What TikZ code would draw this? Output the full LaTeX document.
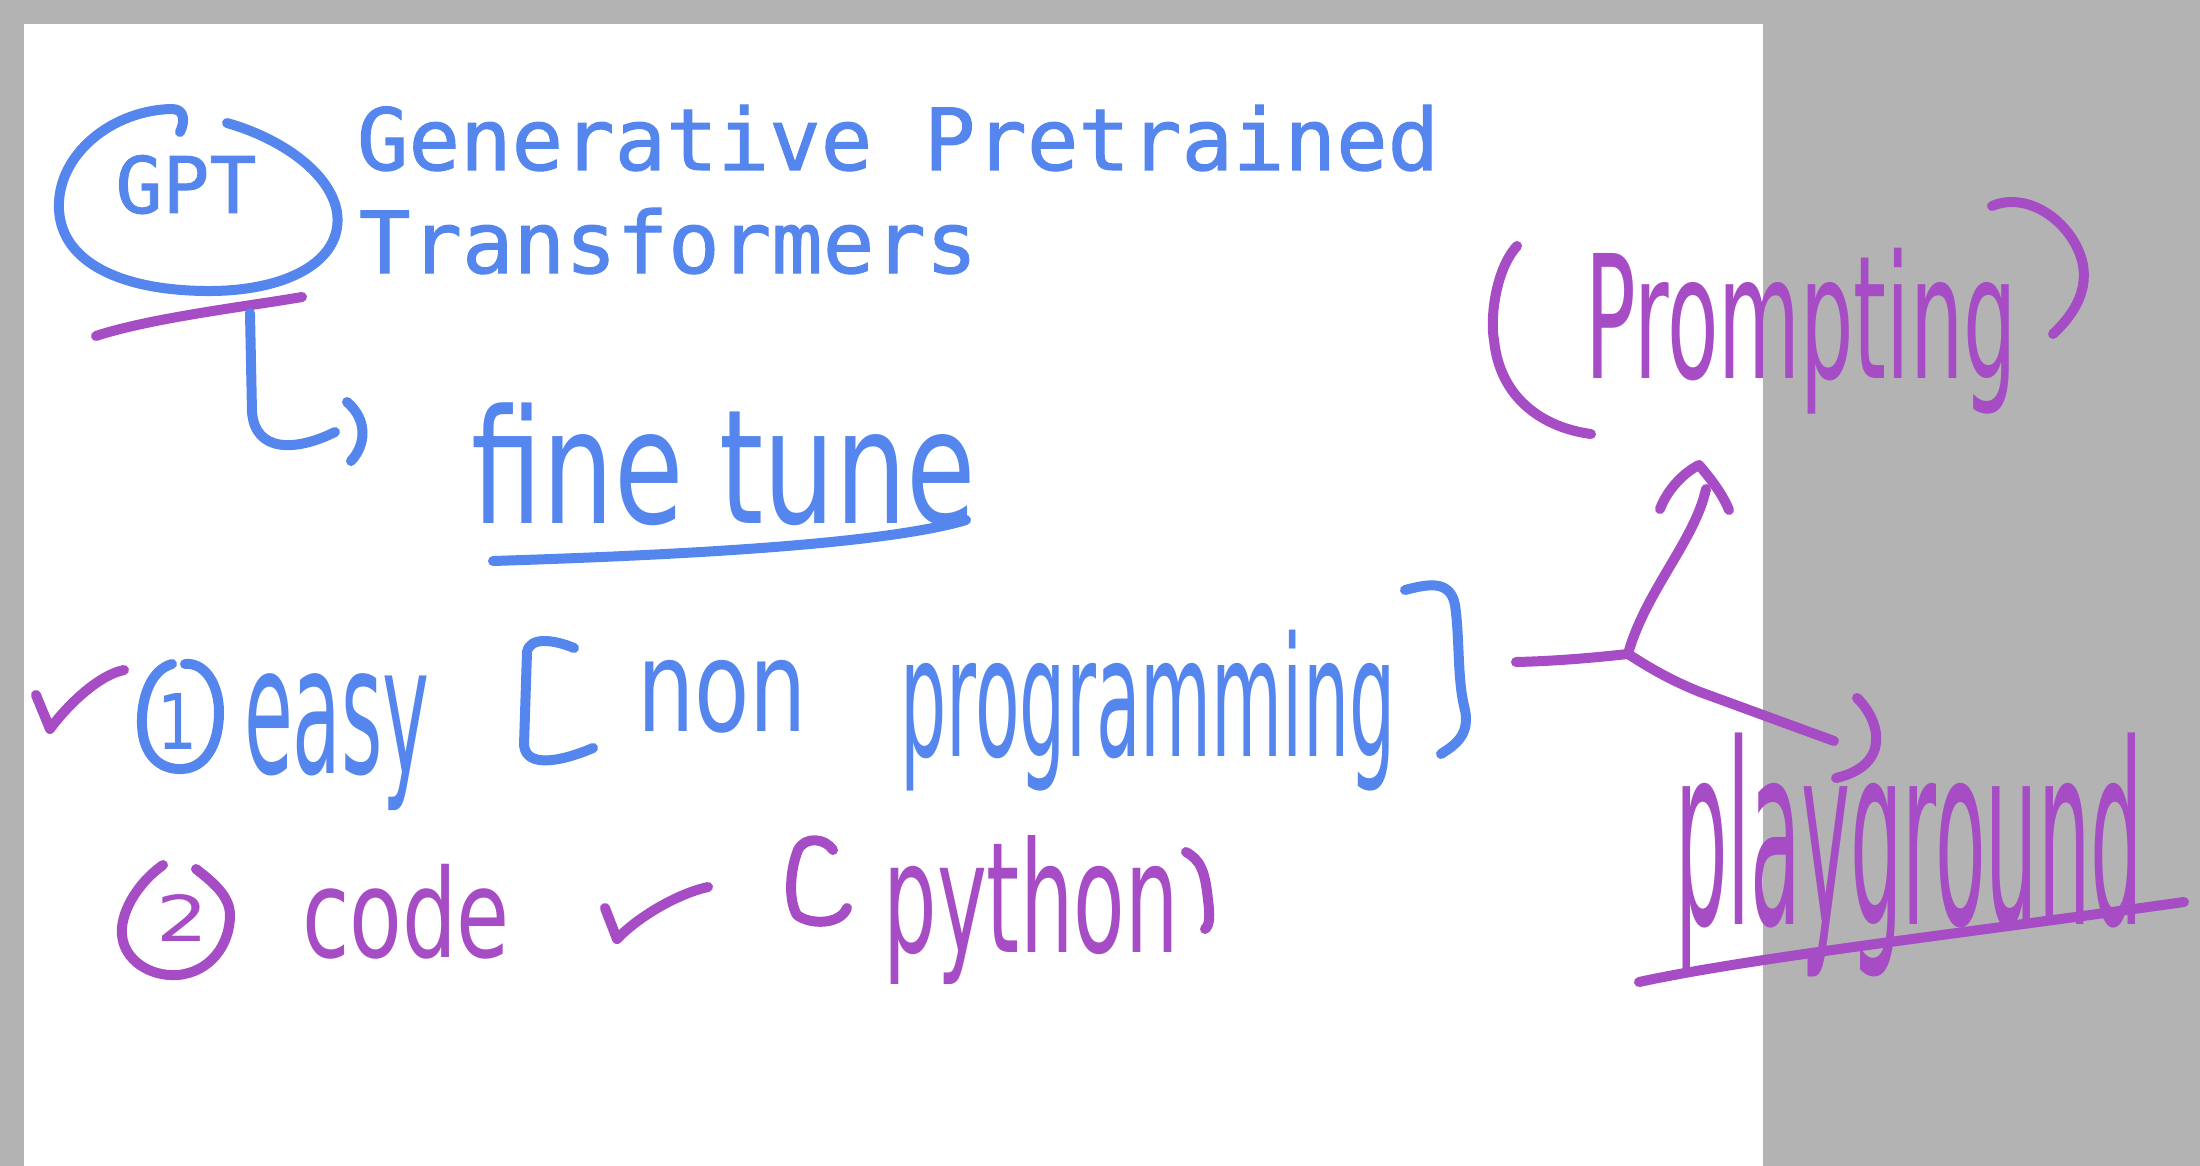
\documentclass[tikz,border=0pt]{standalone}
\usepackage{fontspec}
\usepackage{graphicx}
\newfontfamily\monofont[FakeBold=1.2]{DejaVu Sans Mono}
\newfontfamily\hwfont{DejaVu Sans}
\definecolor{pblue}{RGB}{85,134,237}
\definecolor{ppurple}{RGB}{166,76,196}
\definecolor{bggray}{RGB}{179,179,179}
\newcommand{\hwbox}[3]{\resizebox*{#1pt}{#2pt}{\fontsize{100}{100}\hwfont #3}}
\tikzset{
  bstroke/.style={draw=pblue, line width=10pt, line cap=round, line join=round},
  pstroke/.style={draw=ppurple, line width=10pt, line cap=round, line join=round},
  hwb/.style={text=pblue, inner sep=0pt, outer sep=0pt, anchor=center},
  hwp/.style={text=ppurple, inner sep=0pt, outer sep=0pt, anchor=center},
  typed/.style={text=pblue, inner sep=0pt, outer sep=0pt, font=\fontsize{85.6}{100}\monofont}
}
\begin{document}
\begin{tikzpicture}[x=1pt,y=-1pt]
\fill[bggray] (0,0) rectangle (2200,1166);
\fill[white] (24,24) rectangle (1763,1166);
\useasboundingbox (0,0) rectangle (2200,1166);

% typed header
\node[typed, anchor=base west] (title1) at (357,170) {Generative Pretrained};
\node[typed, anchor=base west] (title2) at (359,273) {Transformers};
\node[text=pblue, inner sep=0pt, anchor=base, font=\fontsize{78}{90}\monofont] (gpt) at (186,213) {GPT};

% ellipse around GPT
\draw[bstroke] (227,123) .. controls (280,138) and (330,172) .. (337,212)
  .. controls (344,262) and (285,292) .. (205,291)
  .. controls (120,290) and (62,262) .. (59,210)
  .. controls (56,155) and (112,110) .. (172,109)
  .. controls (185,109) and (185,122) .. (180,132);
% purple underline under GPT
\draw[pstroke] (96,336) .. controls (150,318) and (250,306) .. (302,297);

% connector GPT -> fine tune
\coordinate (gu) at (250,313);
\coordinate (gend) at (335,432);
\draw[bstroke] (gu) -- (252,412) .. controls (255,452) and (295,452) .. (gend);
\draw[bstroke] (347,402) .. controls (368,420) and (366,445) .. (351,461);

% fine tune
\node[hwb] (fine) at (724,464) {\hwbox{505}{123}{fine tune}};
\draw[bstroke] (493,561) .. controls (650,556) and (880,546) .. (966,520);

% item 1
\draw[pstroke] (36,695) -- (50,729) .. controls (62,712) and (95,676) .. (124,670);
\draw[bstroke] (172,664) .. controls (150,670) and (141,700) .. (142,725)
  .. controls (143,755) and (160,770) .. (182,769)
  .. controls (205,768) and (219,745) .. (219,712)
  .. controls (219,685) and (205,662) .. (185,664);
\node[hwb] (one) at (177,721) {\hwbox{40}{56}{1}};
\node[hwb] (easy) at (337,742) {\hwbox{186}{137}{easy}};
\draw[bstroke] (574,648) .. controls (555,640) and (530,636) .. (527,652) -- (524,745)
  .. controls (526,768) and (560,762) .. (593,748);
\node[hwb] (non) at (722,697) {\hwbox{170}{73}{non}};
\node[hwb] (prog) at (1148,711) {\hwbox{495}{161}{programming}};
\draw[bstroke] (1405,590) .. controls (1425,585) and (1450,578) .. (1455,605)
  .. controls (1460,640) and (1457,680) .. (1465,710)
  .. controls (1470,735) and (1455,745) .. (1441,754);

% item 2
\draw[pstroke] (163,865) .. controls (135,885) and (120,915) .. (122,935)
  .. controls (124,960) and (150,977) .. (178,975)
  .. controls (210,972) and (230,945) .. (230,915)
  .. controls (230,895) and (210,880) .. (196,869);
\node[hwp] (two) at (182,918) {\hwbox{52}{47}{2}};
\node[hwp] (code) at (406,912) {\hwbox{208}{95}{code}};
\draw[pstroke] (605,908) -- (617,939) .. controls (640,915) and (680,893) .. (708,887);
\draw[pstroke] (833,850) .. controls (825,838) and (805,836) .. (798,850)
  .. controls (790,870) and (788,900) .. (797,915)
  .. controls (810,925) and (840,925) .. (847,908);
\node[hwp] (python) at (1031,910) {\hwbox{295}{149}{python}};
\draw[pstroke] (1186,852) .. controls (1200,860) and (1205,870) .. (1208,900)
  .. controls (1210,915) and (1210,925) .. (1205,929);

% prompting
\draw[pstroke] (1517,246) .. controls (1495,270) and (1490,320) .. (1494,340)
  .. controls (1500,400) and (1545,428) .. (1591,434);
\node[hwp] (prompt) at (1801,331) {\hwbox{432}{166}{Prompting}};
\draw[pstroke] (1992,206) .. controls (2030,190) and (2075,225) .. (2083,265)
  .. controls (2088,295) and (2070,318) .. (2053,334);

% playground
\node[hwp] (play) at (1909,855) {\hwbox{468}{244}{playground}};
\draw[pstroke] (1639,982) .. controls (1750,958) and (1950,935) .. (2184,902);

% fork connector
\coordinate (fstart) at (1516,662);
\coordinate (J) at (1628,654);
\coordinate (ptip) at (1706,489);
\coordinate (pend) at (1834,741);
\draw[pstroke] (fstart) .. controls (1560,661) and (1600,657) .. (J);
\draw[pstroke] (J) .. controls (1645,592) and (1695,540) .. (ptip);
\draw[pstroke] (1660,509) .. controls (1668,488) and (1685,472) .. (1699,465)
  .. controls (1710,478) and (1722,493) .. (1729,510);
\draw[pstroke] (J) .. controls (1650,668) and (1670,680) .. (1700,692) -- (pend);
\draw[pstroke] (1857,698) .. controls (1880,720) and (1892,765) .. (1836,778);
\end{tikzpicture}
\end{document}
